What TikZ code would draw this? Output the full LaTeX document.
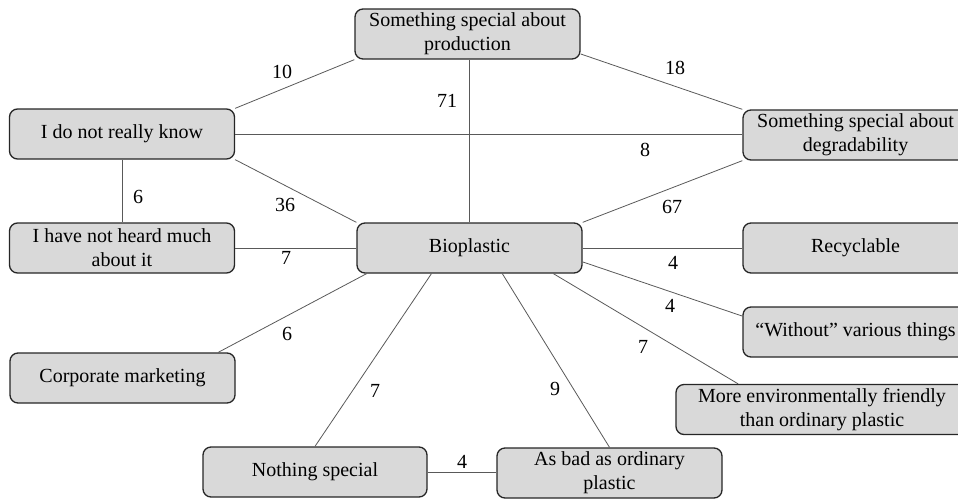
\documentclass[tikz,border=0pt]{standalone}
\usepackage{fontspec}
\setmainfont{Liberation Serif}
\usepackage{tikz}
\tikzstyle{answer}=[rectangle, rounded corners=8pt, draw=black!85, line width=1.3pt, fill=gray!30, minimum width=225pt, minimum height=50pt, inner sep=0pt, align=center, font=\fontsize{20}{24}\selectfont]
\tikzstyle{link}=[draw=black!65, line width=0.8pt]
\tikzstyle{count}=[inner sep=0pt, font=\fontsize{20}{24}\selectfont]

\begin{document}
\begin{tikzpicture}[x=1pt, y=-1pt]
\useasboundingbox (0,0) rectangle (958,498);

\node[answer] (prod) at (467.5,34) {Something special about\\production};
\node[answer] (know) at (122,134) {I do not really know};
\node[answer] (degr) at (855.5,135) {Something special about\\degradability};
\node[answer] (heard) at (122,248) {I have not heard much\\about it};
\node[answer] (bio) at (469.5,248) {Bioplastic};
\node[answer] (recyc) at (855.5,248) {Recyclable};
\node[answer] (without) at (855.5,332) {``Without'' various things};
\node[answer] (corp) at (122.5,378) {Corporate marketing};
\node[answer, minimum width=292pt] (more) at (822,409.5) {More environmentally friendly\\than ordinary plastic};
\node[answer, minimum width=224pt] (nothing) at (315,472) {Nothing special};
\node[answer] (bad) at (609.5,473) {As bad as ordinary\\plastic};

\draw[link] (know.north east) -- (prod.south west);
\draw[link] (prod.-10) -- (degr.north west);
\draw[link] (prod.south -| bio.north) -- (bio.north);
\draw[link] (know.east) -- (know.east -| degr.west);
\draw[link] (know.south east) -- (bio.north west);
\draw[link] (know.south) -- (heard.north);
\draw[link] (heard.east) -- (bio.west);
\draw[link] (bio.north east) -- (degr.south west);
\draw[link] (bio.east) -- (recyc.west);
\draw[link] (bio.-7) -- (without.172);
\draw[link] (bio.-17) -- (more.163);
\draw[link] (bio.-38) -- (bad.north);
\draw[link] (bio.214) -- (nothing.north);
\draw[link] (bio.194) -- (corp.15);
\draw[link] (nothing.east) -- (nothing.east -| bad.west);

\node[count] (n10) at (282,72) {10};
\node[count] (n18) at (675,68) {18};
\node[count] (n71) at (447,101) {71};
\node[count] (n8) at (645,150) {8};
\node[count] (n6a) at (138,197) {6};
\node[count] (n36) at (285,205) {36};
\node[count] (n7a) at (286,258) {7};
\node[count] (n67) at (672,207) {67};
\node[count] (n4a) at (673,263) {4};
\node[count] (n4b) at (670,306) {4};
\node[count] (n7b) at (643,347) {7};
\node[count] (n9) at (555,389) {9};
\node[count] (n7c) at (375,391) {7};
\node[count] (n6b) at (287,334) {6};
\node[count] (n4c) at (462,462) {4};

\end{tikzpicture}
\end{document}
